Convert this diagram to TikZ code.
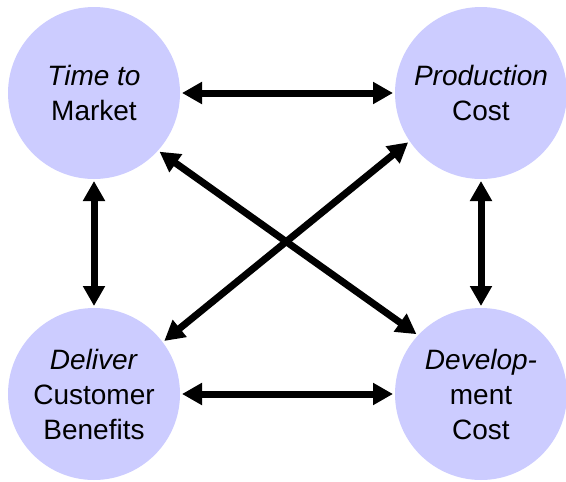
\documentclass[tikz,border=0pt]{standalone}
\usepackage{fontspec}
\setmainfont{Liberation Sans}
\usetikzlibrary{arrows.meta, positioning}
\definecolor{lavender}{RGB}{204,204,255}
\tikzset{
	goal/.style={
		circle, 
		minimum size=172pt, 
		inner sep=0pt, 
		outer sep=0pt, 
		text centered, 
		align=center, 
		fill=lavender,
		font=\fontsize{28}{35}\selectfont
	},
	arrow/.style={line width=7pt, {Triangle[length=20pt,width=21pt]}-{Triangle[length=20pt,width=21pt]}, shorten <=2pt, shorten >=2pt}
}

\begin{document}
\begin{tikzpicture}[x=1pt, y=-1pt]
				\useasboundingbox (0,0) rectangle (566,482);
				\node (market) [goal] at (94,93) {\textit{Time to}\\Market};
				\node (production) [goal, right=215pt of market] {\textit{Production}\\Cost};
				\node (benefits) [goal, below=129pt of market] {\textit{Deliver}\\Customer\\Benefits};
				\node (development) [goal, right=215pt of benefits] {\textit{Develop-}\\ment\\Cost};
				
				\draw [arrow] (market) -- (production);
				\draw [arrow] (benefits) -- (development);
				\draw [arrow] (market) -- (benefits);
				\draw [arrow] (production) -- (development);
				\draw [arrow] (market.-42) -- (development.137);
				\draw [arrow] (benefits.37) -- (production.214);
			\end{tikzpicture}
\end{document}
